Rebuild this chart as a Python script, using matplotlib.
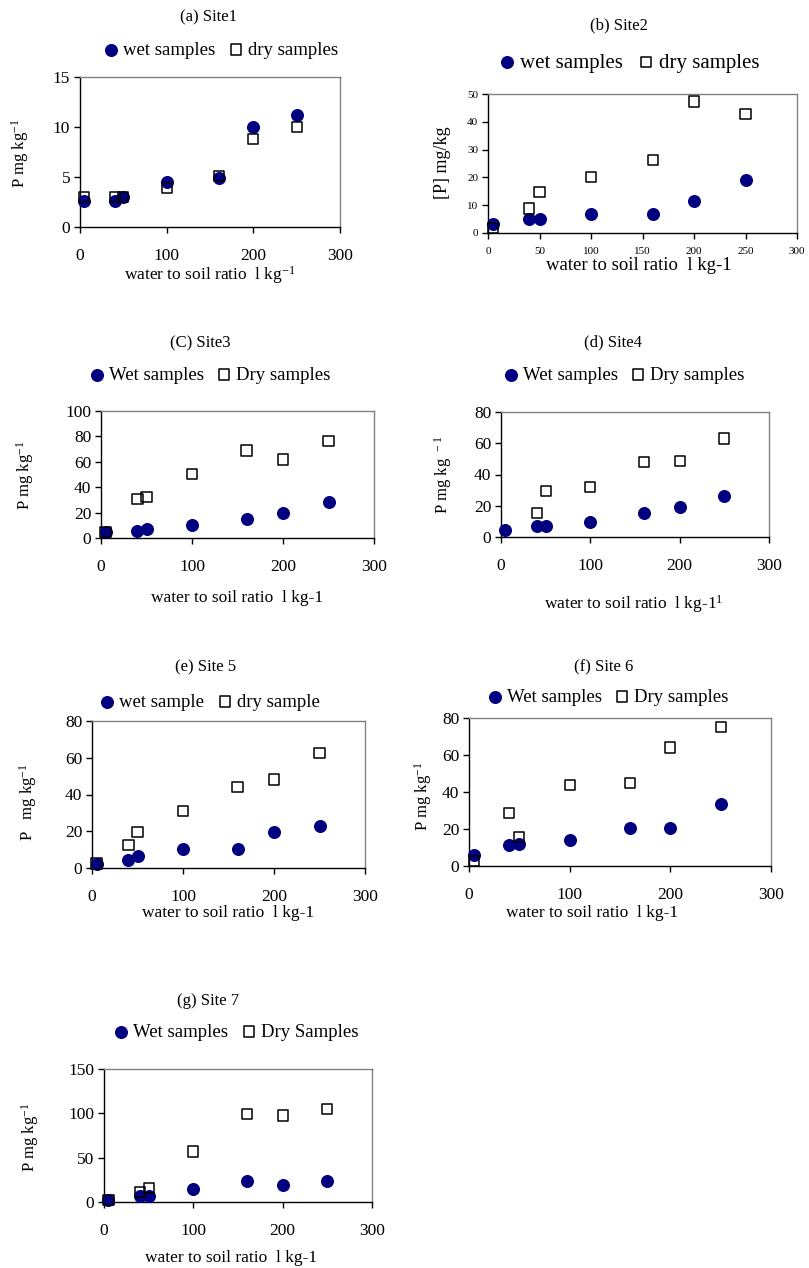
import numpy as np
import matplotlib
matplotlib.use("Agg")
import matplotlib.pyplot as plt

plt.rcParams['font.family'] = ['Liberation Serif', 'DejaVu Serif']
plt.rcParams['mathtext.fontset'] = 'custom'
plt.rcParams['mathtext.rm'] = 'Liberation Serif'
plt.rcParams['mathtext.it'] = 'Liberation Serif:italic'

# water to soil ratio (l kg-1)
ratio = [5, 40, 50, 100, 160, 200, 250]

wet_1 = [2.6, 2.6, 3.0, 4.5, 4.9, 10.0, 11.2]
dry_1 = [3.0, 3.0, 3.0, 3.9, 5.1, 8.8, 10.0]
wet_2 = [3.4, 5.2, 5.2, 6.9, 6.9, 11.6, 19.0]
dry_2 = [1.8, 8.8, 14.8, 20.2, 26.3, 47.3, 42.8]
wet_3 = [4.7, 5.8, 7.3, 10.2, 14.7, 19.4, 28.0]
dry_3 = [4.7, 30.6, 32.5, 50.3, 69.0, 61.8, 76.4]
wet_4 = [4.5, 6.8, 6.8, 9.4, 15.4, 19.0, 26.0]
dry_4 = [np.nan, 15.4, 29.6, 32.0, 47.8, 48.8, 63.1]
wet_5 = [2.4, 4.2, 6.4, 10.4, 10.4, 19.5, 22.7]
dry_5 = [2.4, 12.7, 19.6, 30.9, 44.2, 48.2, 62.4]
wet_6 = [5.8, 11.5, 12.1, 14.2, 20.5, 20.5, 33.5]
dry_6 = [2.7, 28.6, 15.7, 43.6, 44.9, 64.0, 75.1]
wet_7 = [2.6, 6.4, 6.4, 15.0, 23.2, 19.5, 23.2]
dry_7 = [2.6, 11.2, 15.7, 57.0, 99.4, 97.5, 105.0]

W, H = 809, 1268
fig = plt.figure(figsize=(W / 100, H / 100), dpi=100)

def fx(x):
    return x / W

def fy(y):
    return 1 - y / H

sup = r'$\mathregular{^{-1}}$'
panels = [
    dict(box=(80, 77, 340, 227), wet=wet_1, dry=dry_1, ymax=15, ystep=5, xstep=100, small=False,
         title='(a) Site1', tpos=(208, 17),
         leg=('wet samples', 'dry samples'), lpos=(220, 50),
         ylabel='P mg kg' + sup, ypos=(20, 153),
         xlabel='water to soil ratio  l kg' + sup, xpos=(210, 275)),
    dict(box=(488, 94, 797, 233), wet=wet_2, dry=dry_2, ymax=50, ystep=10, xstep=50, small=True,
         title='(b) Site2', tpos=(619, 25),
         leg=('wet samples', 'dry samples'), lpos=(628, 63),
         ylabel='[P] mg/kg', ypos=(443, 163),
         xlabel='water to soil ratio  l kg-1', xpos=(639, 266)),
    dict(box=(101, 411, 374, 538), wet=wet_3, dry=dry_3, ymax=100, ystep=20, xstep=100, small=False,
         title='(C) Site3', tpos=(200, 343),
         leg=('Wet samples', 'Dry samples'), lpos=(209, 375),
         ylabel='P mg kg' + sup, ypos=(25, 475),
         xlabel='water to soil ratio  l kg-1', xpos=(237, 598)),
    dict(box=(501, 412, 769, 537), wet=wet_4, dry=dry_4, ymax=80, ystep=20, xstep=100, small=False,
         title='(d) Site4', tpos=(613, 342),
         leg=('Wet samples', 'Dry samples'), lpos=(623, 375),
         ylabel=r'P mg kg$\mathregular{^{\ \ -1}}$', ypos=(443, 475),
         xlabel='water to soil ratio  l kg-1' + r'$\mathregular{^{1}}$', xpos=(634, 604)),
    dict(box=(92, 721, 365, 868), wet=wet_5, dry=dry_5, ymax=80, ystep=20, xstep=100, small=False,
         title='(e) Site 5', tpos=(206, 667),
         leg=('wet sample', 'dry sample'), lpos=(209, 702),
         ylabel='P   mg kg' + sup, ypos=(28, 802),
         xlabel='water to soil ratio  l kg-1', xpos=(228, 913)),
    dict(box=(469, 718, 771, 866), wet=wet_6, dry=dry_6, ymax=80, ystep=20, xstep=100, small=False,
         title='(f) Site 6', tpos=(604, 667),
         leg=('Wet samples', 'Dry samples'), lpos=(607, 697),
         ylabel='P mg kg' + sup, ypos=(423, 796),
         xlabel='water to soil ratio  l kg-1', xpos=(592, 913)),
    dict(box=(104, 1069, 372, 1202), wet=wet_7, dry=dry_7, ymax=150, ystep=50, xstep=100, small=False,
         title='(g) Site 7', tpos=(208, 1001),
         leg=('Wet samples', 'Dry Samples'), lpos=(235, 1032),
         ylabel='P mg kg' + sup, ypos=(30, 1137),
         xlabel='water to soil ratio  l kg-1', xpos=(231, 1258)),
]

navy = '#000080'
for p in panels:
    l, t, r, b = p['box']
    ax = fig.add_axes([fx(l), fy(b), (r - l) / W, (b - t) / H])
    h1 = ax.scatter(ratio, p['wet'], s=70, marker='o', color=navy, zorder=3, clip_on=False)
    h2 = ax.scatter(ratio, p['dry'], s=55, marker='s', facecolors='none', edgecolors='black',
                    linewidths=1.1, zorder=4, clip_on=False)
    ax.set_xlim(0, 300)
    ax.set_ylim(0, p['ymax'])
    ax.set_xticks(np.arange(0, 301, p['xstep']))
    ax.set_yticks(np.arange(0, p['ymax'] + 1, p['ystep']))
    fs = 8 if p['small'] else 12.5
    ax.tick_params(direction='out', length=4, width=1, labelsize=fs)
    ax.tick_params(axis='x', pad=6 if p['small'] else 11)
    ax.tick_params(axis='y', pad=3)
    for s in ['left', 'bottom']:
        ax.spines[s].set_color('black')
        ax.spines[s].set_linewidth(1)
    for s in ['top', 'right']:
        ax.spines[s].set_color('#808080')
        ax.spines[s].set_linewidth(1)

    big = 13 if p['small'] else 12
    fig.text(fx(p['tpos'][0]), fy(p['tpos'][1]), p['title'], ha='center', va='center', fontsize=12)
    fig.text(fx(p['xpos'][0]), fy(p['xpos'][1]), p['xlabel'], ha='center', va='center', fontsize=big + 0.5)
    fig.text(fx(p['ypos'][0]), fy(p['ypos'][1]), p['ylabel'], ha='center', va='center',
             fontsize=big, rotation=90)
    ax.legend([h1, h2], list(p['leg']), loc='center', ncol=2, frameon=False,
              bbox_to_anchor=(fx(p['lpos'][0]), fy(p['lpos'][1])), bbox_transform=fig.transFigure,
              fontsize=13.5 if not p['small'] else 15, handletextpad=0.15, columnspacing=0.6,
              handlelength=1.0, borderpad=0, borderaxespad=0)

plt.savefig('out.png', dpi=100)
